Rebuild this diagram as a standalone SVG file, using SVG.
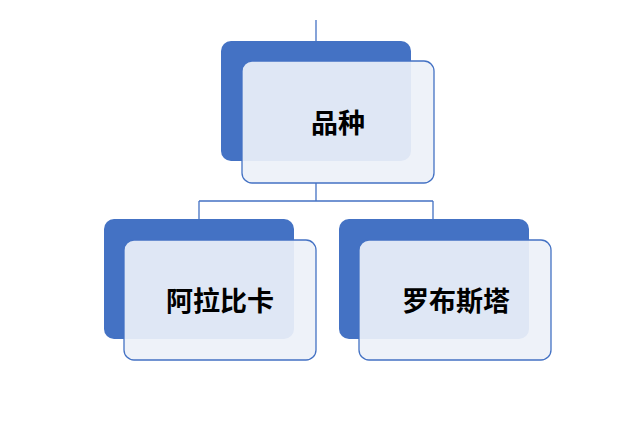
<svg xmlns="http://www.w3.org/2000/svg" width="640" height="421" viewBox="0 0 640 421">
<style>
.back{fill:#4472C4}
.front{fill:#EDF1F9;fill-opacity:0.92;stroke:#4472C4;stroke-width:1.3}
.t{font-family:"Noto Sans CJK SC","Noto Sans",sans-serif;font-size:27px;font-weight:bold;fill:#000;text-anchor:middle;dominant-baseline:central}
.c{stroke:#4472C4;stroke-width:1.3;fill:none}
</style>
<rect width="640" height="421" fill="#fff"/>
<g id="connectors">
<path class="c" d="M316 20V41"/>
<path class="c" d="M316 183V201M199 201H433M199 201V219M433 201V219"/>
</g>
<g id="node-root">
<rect class="back" x="221" y="41" width="190" height="120" rx="10"/>
<rect class="front" x="242" y="61" width="192" height="122" rx="10"/>
<text class="t" x="338" y="121">品种</text>
</g>
<g id="node-arabica">
<rect class="back" x="104" y="219" width="190" height="120" rx="10"/>
<rect class="front" x="124" y="240" width="192" height="120" rx="10"/>
<text class="t" x="220" y="299">阿拉比卡</text>
</g>
<g id="node-robusta">
<rect class="back" x="339" y="219" width="190" height="120" rx="10"/>
<rect class="front" x="359" y="240" width="192" height="120" rx="10"/>
<text class="t" x="456" y="299">罗布斯塔</text>
</g>
</svg>
